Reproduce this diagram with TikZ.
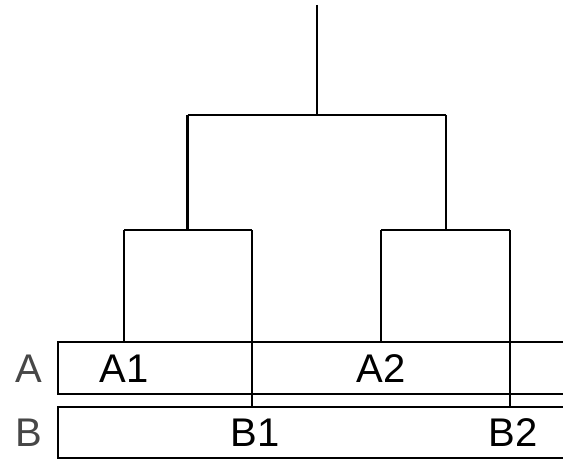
\documentclass[tikz,border=0pt]{standalone}
\usepackage{fontspec}
\setmainfont{Liberation Sans}
\begin{document}
\begin{tikzpicture}[x=1pt,y=-1pt,line width=2.8pt,
  lbl/.style={inner sep=0pt,font=\fontsize{40}{40}\selectfont},
  rowlbl/.style={lbl,text=black!72}]
\useasboundingbox (0,0) rectangle (563,460);
% rows
\draw (58,342) rectangle (590,394);
\draw (58,407) rectangle (590,458);
\coordinate (d1t) at (252,342);
\coordinate (d1b) at (252,407);
\coordinate (d2t) at (510,342);
\coordinate (d2b) at (510,407);
\draw (d1t) -- (d1b);
\draw (d2t) -- (d2b);
% labels
\node[rowlbl] (labA) at (29,369) {A};
\node[rowlbl] (labB) at (29,433) {B};
\node[lbl] (A1) at (124,369) {A1};
\node[lbl] (A2) at (381,369) {A2};
\node[lbl] (B1) at (255,433) {B1};
\node[lbl] (B2) at (513,433) {B2};
% tree
\coordinate (root) at (317,5);
\coordinate (n0) at (317,115);
\coordinate (nl) at (187.5,115);
\coordinate (nr) at (446,115);
\coordinate (nlb) at (187.5,230);
\coordinate (nrb) at (446,230);
\coordinate (l1) at (124,230);
\coordinate (l2) at (252,230);
\coordinate (l3) at (381,230);
\coordinate (l4) at (510,230);
\coordinate (e1) at (124,342);
\coordinate (e3) at (381,342);
\draw (root) -- (n0);
\draw (nl) -- (nr);
\draw (nl) -- (nlb);
\draw (nr) -- (nrb);
\draw (l1) -- (l2);
\draw (l3) -- (l4);
\draw (l1) -- (e1);
\draw (l2) -- (d1t);
\draw (l3) -- (e3);
\draw (l4) -- (d2t);
\end{tikzpicture}
\end{document}
